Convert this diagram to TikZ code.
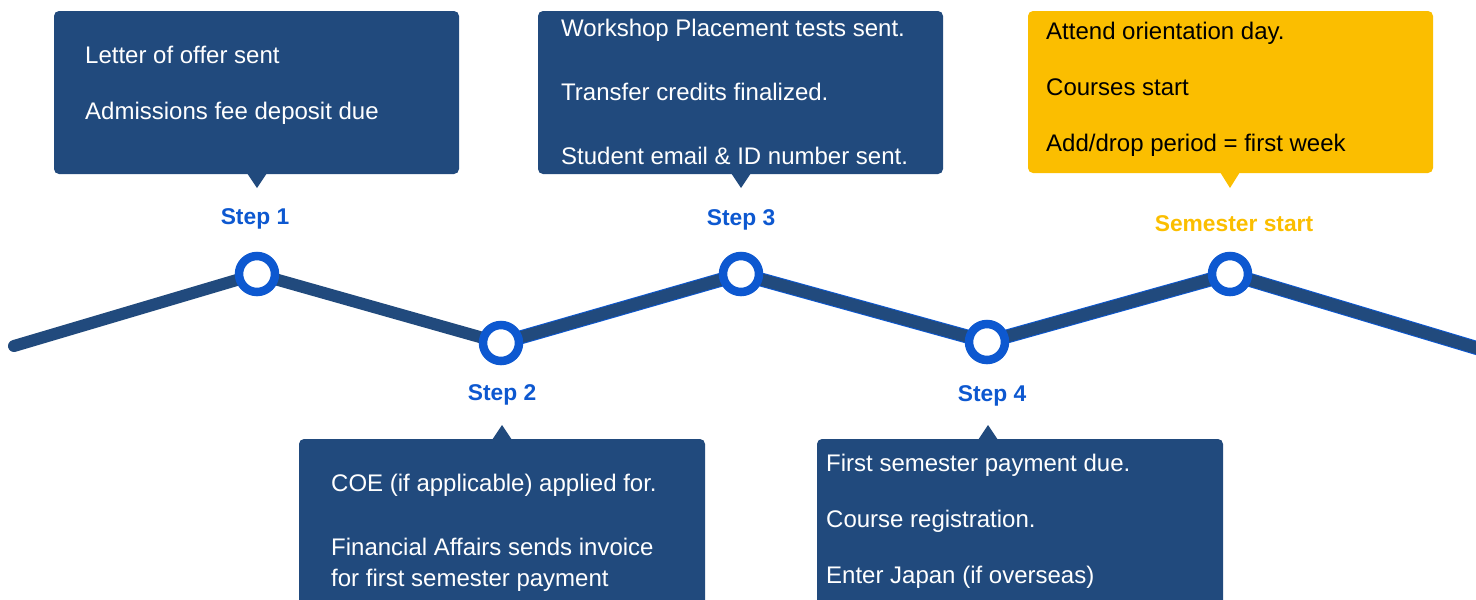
\documentclass[tikz,border=0pt]{standalone}
\usepackage{fontspec}
\setmainfont{Liberation Sans}
\definecolor{navy}{RGB}{33,74,125}
\definecolor{brightblue}{RGB}{13,88,208}
\definecolor{gold}{RGB}{251,190,0}
\begin{document}
\begin{tikzpicture}[x=1pt,y=-1pt,
  box/.style={fill=navy, rounded corners=5pt},
  goldbox/.style={fill=gold, rounded corners=5pt},
  txt/.style={anchor=base west, inner sep=0pt, text=white, font=\fontsize{24}{28}\selectfont},
  darktxt/.style={txt, text=black},
  steplbl/.style={inner sep=0pt, text=brightblue, font=\bfseries\fontsize{22.8}{26}\selectfont},
  milestone/.style={circle, draw=brightblue, line width=8.5pt, fill=white, minimum size=36pt, inner sep=0pt},
  trackline/.style={draw=navy, line width=12pt, line join=round},
  trackedge/.style={draw=brightblue, line width=14pt, line join=round}]
\useasboundingbox (0,0) rectangle (1476,600);
\clip (0,0) rectangle (1476,600);

% track points
\coordinate (start) at (14,346);
\coordinate (p1) at (257,274);
\coordinate (p2) at (501,343);
\coordinate (p3) at (741,274);
\coordinate (p4) at (987,342);
\coordinate (p5) at (1230,274);
\coordinate (finish) at (1490,352);

% track
\draw[trackline, line cap=round] (start) -- (p1) -- (p2);
\draw[trackedge] (p2) -- (p3) -- (p4) -- (p5) -- (finish);
\draw[trackline] (p2) -- (p3) -- (p4) -- (p5) -- (finish);

% milestones
\node[milestone] (m1) at (p1) {};
\node[milestone] (m2) at (p2) {};
\node[milestone] (m3) at (p3) {};
\node[milestone] (m4) at (p4) {};
\node[milestone] (m5) at (p5) {};

% step labels
\node[steplbl] (s1) at (255,219) {Step 1};
\node[steplbl] (s2) at (502,395) {Step 2};
\node[steplbl] (s3) at (741,220) {Step 3};
\node[steplbl] (s4) at (992,396) {Step 4};
\node[steplbl, text=gold] (s5) at (1234,224) {Semester start};

% box 1
\path[box] (54,11) rectangle (459,174);
\fill[navy] (247,173) -- (257,188) -- (267,173) -- cycle;
\node[txt] (t11) at (85,63) {Letter of offer sent};
\node[txt] (t12) at (85,119) {Admissions fee deposit due};

% box 3
\path[box] (538,11) rectangle (943,174);
\fill[navy] (731,173) -- (741,188) -- (751,173) -- cycle;
\node[txt] (t31) at (561,36) {Workshop Placement tests sent.};
\node[txt] (t32) at (561,100) {Transfer credits finalized.};
\node[txt] (t33) at (561,164) {Student email \& ID number sent.};

% box 5 (semester start)
\path[goldbox] (1028,11) rectangle (1433,173);
\fill[gold] (1220,172) -- (1230,188) -- (1240,172) -- cycle;
\node[darktxt] (t51) at (1046,39) {Attend orientation day.};
\node[darktxt] (t52) at (1046,95) {Courses start};
\node[darktxt] (t53) at (1046,151) {Add/drop period = first week};

% box 2
\path[box] (299,439) rectangle (705,615);
\fill[navy] (492,440) -- (502,425) -- (512,440) -- cycle;
\node[txt] (t21) at (331,491) {COE (if applicable) applied for.};
\node[txt] (t22) at (331,555) {Financial Affairs sends invoice};
\node[txt] (t23) at (331,586) {for first semester payment};

% box 4
\path[box] (817,439) rectangle (1223,615);
\fill[navy] (978,440) -- (988,425) -- (998,440) -- cycle;
\node[txt] (t41) at (826,471) {First semester payment due.};
\node[txt] (t42) at (826,527) {Course registration.};
\node[txt] (t43) at (826,583) {Enter Japan (if overseas)};
\end{tikzpicture}
\end{document}
